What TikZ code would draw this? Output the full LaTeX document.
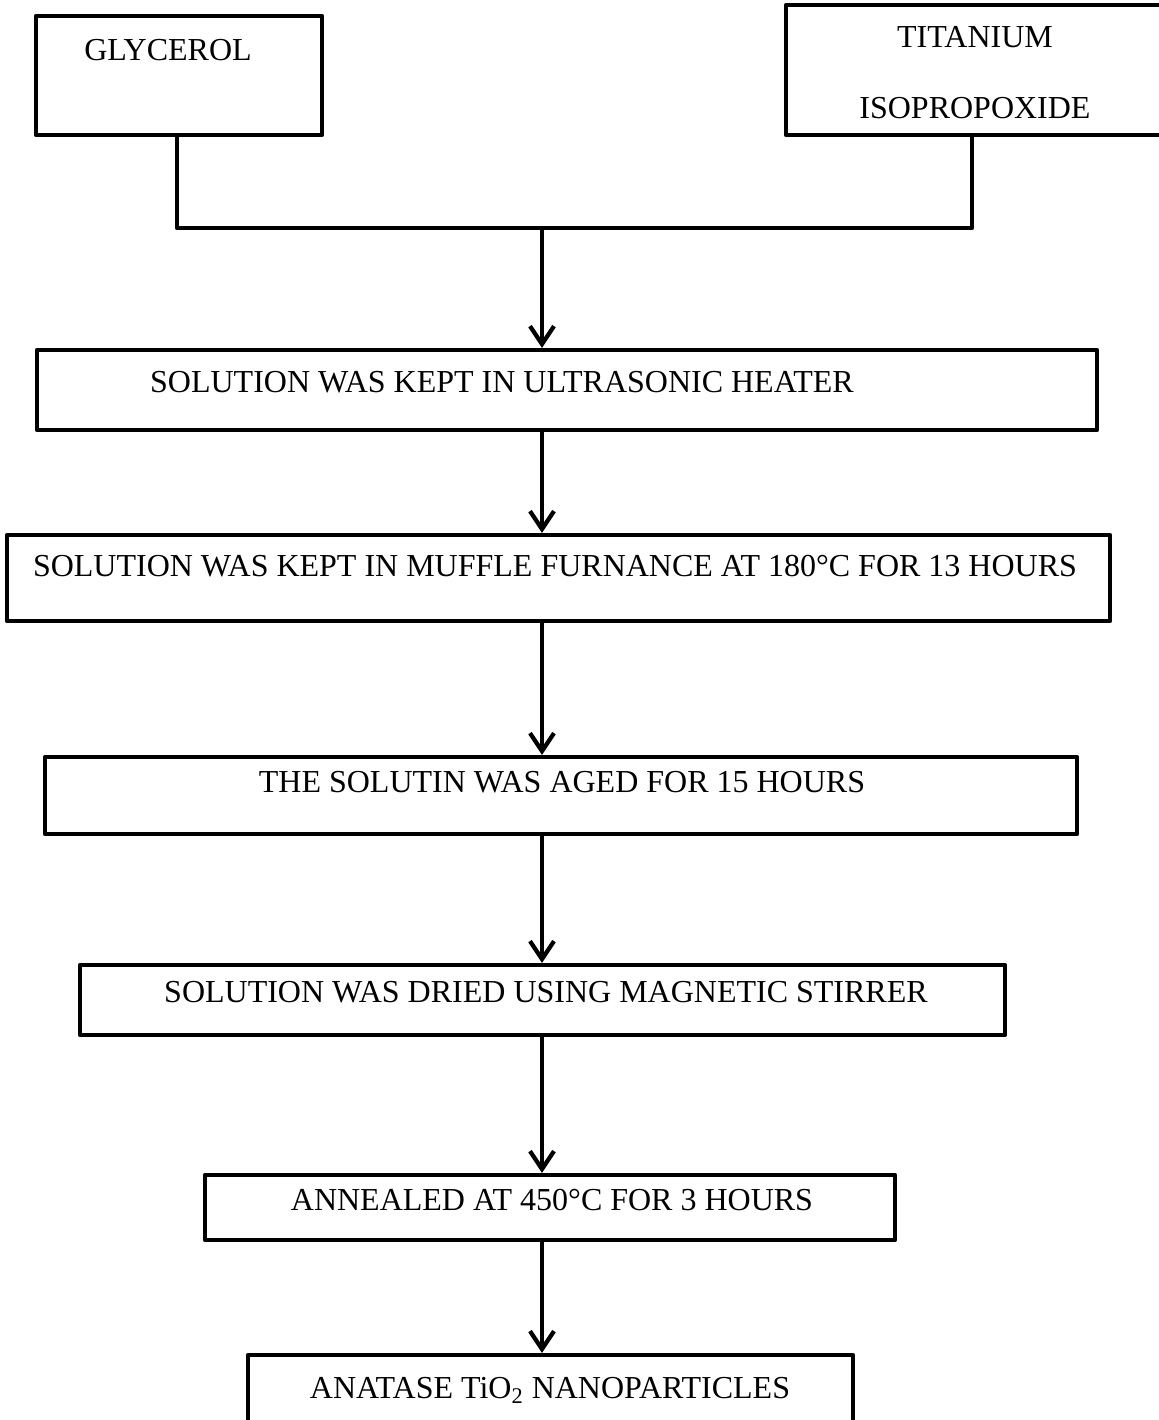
\documentclass[tikz,border=0pt]{standalone}
\usepackage{fontspec}
\setmainfont{Liberation Serif}
\usetikzlibrary{arrows.meta}
\tikzset{
  box/.style={draw, rectangle, line width=2.1pt, inner sep=0pt, line join=round},
  lbl/.style={anchor=base, inner sep=0pt, font=\fontsize{16}{19}\selectfont},
  conn/.style={line width=2.1pt, line join=round},
  arr/.style={line width=2.1pt, -{Straight Barb[length=9pt,width=12pt,line width=2.1pt]}}
}
\begin{document}
\begin{tikzpicture}[x=0.5pt,y=-0.5pt]
\clip (0,0) rectangle (1159,1420);
\fill[white] (0,0) rectangle (1159,1420);
% boxes
\node[box, minimum width=143pt, minimum height=59.5pt] (g) at (179,75.5) {};
\node[box, minimum width=192pt, minimum height=65pt] (ti) at (978,70) {};
\node[box, minimum width=530pt, minimum height=40pt] (b2) at (567,390) {};
\node[box, minimum width=551.5pt, minimum height=43pt] (b3) at (558.5,578) {};
\node[box, minimum width=516pt, minimum height=38.5pt] (b4) at (561,795.5) {};
\node[box, minimum width=462.5pt, minimum height=35pt] (b5) at (542.5,1000) {};
\node[box, minimum width=345pt, minimum height=32.5pt] (b6) at (550,1207.5) {};
\node[box, minimum width=302.5pt, minimum height=42.5pt] (b7) at (550.5,1397.5) {};
% texts
\node[lbl] (tg) at (168,60) {GLYCEROL};
\node[lbl] (tt1) at (975,47) {TITANIUM};
\node[lbl] (tt2) at (975,118) {ISOPROPOXIDE};
\node[lbl] (t2) at (502,392) {SOLUTION WAS KEPT IN ULTRASONIC HEATER};
\node[lbl] (t3) at (555,576) {SOLUTION WAS KEPT IN MUFFLE FURNANCE AT 180°C FOR 13 HOURS};
\node[lbl] (t4) at (562,792) {THE SOLUTIN WAS AGED FOR 15 HOURS};
\node[lbl] (t5) at (546,1002) {SOLUTION WAS DRIED USING MAGNETIC STIRRER};
\node[lbl] (t6) at (552,1210) {ANNEALED AT 450°C FOR 3 HOURS};
\node[lbl] (t7) at (550,1398) {ANATASE TiO\textsubscript{2} NANOPARTICLES};
% connectors
\coordinate (j1) at (177,228);
\coordinate (j2) at (972,228);
\coordinate (jm) at (542,228);
\draw[conn] (g.south -| j1) -- (j1) -- (j2) -- (ti.south -| j2);
\draw[arr] (jm) -- (jm |- b2.north);
\draw[arr] (b2.south -| jm) -- (b3.north -| jm);
\draw[arr] (b3.south -| jm) -- (b4.north -| jm);
\draw[arr] (b4.south -| jm) -- (b5.north -| jm);
\draw[arr] (b5.south -| jm) -- (b6.north -| jm);
\draw[arr] (b6.south -| jm) -- (b7.north -| jm);
\end{tikzpicture}
\end{document}
